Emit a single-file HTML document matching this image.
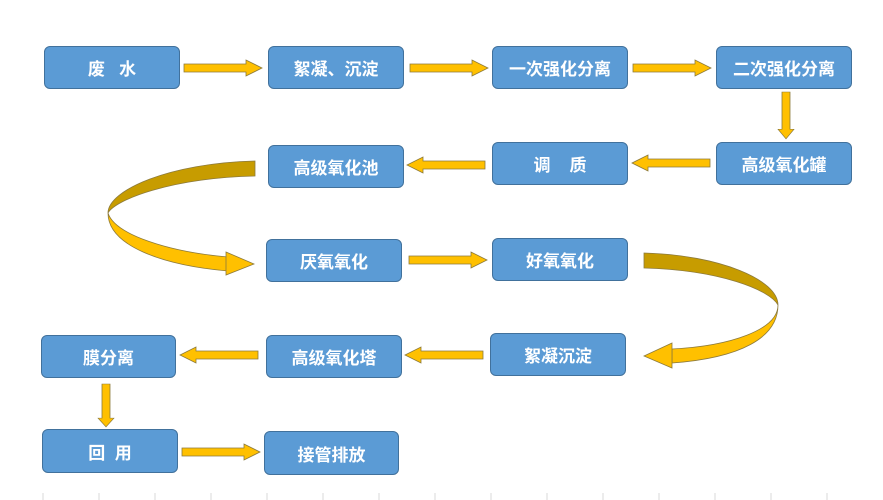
<!DOCTYPE html>
<html><head><meta charset="utf-8"><style>
body{margin:0;background:#fff;width:883px;height:500px;overflow:hidden;position:relative;font-family:"Liberation Sans","Noto Sans CJK SC",sans-serif}
.b{position:absolute;background:#5b9bd5;border:1px solid #41719c;border-radius:6px;color:#fff;font-size:17px;font-weight:bold;display:flex;align-items:center;justify-content:center;box-sizing:border-box}
svg{position:absolute;left:0;top:0}
</style></head><body>
<svg width="883" height="500">
<defs><g id="ar"><path d="M0,-4 L62,-4 L62,-8 L78,0 L62,8 L62,4 L0,4 Z" fill="#ffc000" stroke="#8c7a3c" stroke-width="0.8"/></g></defs>
<use href="#ar" transform="translate(184,68)"/>
<use href="#ar" transform="translate(410,68)"/>
<use href="#ar" transform="translate(633,68)"/>
<use href="#ar" transform="translate(786,92) rotate(90) scale(0.6,1)"/>
<use href="#ar" transform="translate(710,163) rotate(180)"/>
<use href="#ar" transform="translate(485,165) rotate(180)"/>
<use href="#ar" transform="translate(409,260)"/>
<use href="#ar" transform="translate(483,355) rotate(180)"/>
<use href="#ar" transform="translate(258,355) rotate(180)"/>
<use href="#ar" transform="translate(106,384) rotate(90) scale(0.55,1)"/>
<use href="#ar" transform="translate(182,452)"/>
<g stroke="#8c7a3c" stroke-width="0.8">
<path d="M255,161 C170,163 108,190 108,213 C115,200 170,178 255,176 Z" fill="#c79c00"/>
<path d="M108,213 C108,245 160,265 228,271 L228,257 C170,252 115,235 108,213 Z" fill="#ffc000"/>
<path d="M226,252 L254,264 L226,275 Z" fill="#ffc000"/>
<path d="M644,253 C720,255 778,280 778,305 C770,290 720,270 644,268 Z" fill="#c79c00"/>
<path d="M778,305 C778,330 730,346 672,349 L672,363 C740,358 778,338 778,305 Z" fill="#ffc000"/>
<path d="M672,343 L644,356 L672,368 Z" fill="#ffc000"/>
</g>
<g stroke="#d9d9d9" stroke-width="1">
<path d="M43,493V500M99,493V500M155,493V500M211,493V500M267,493V500M323,493V500M379,493V500M435,493V500M491,493V500M547,493V500M603,493V500M659,493V500M715,493V500M771,493V500M827,493V500"/>
</g>
</svg>
<div class="b" style="left:44px;top:46px;width:136px;height:43px">废&nbsp;&nbsp;&nbsp;水</div>
<div class="b" style="left:268px;top:46px;width:136px;height:43px">絮凝、沉淀</div>
<div class="b" style="left:492px;top:46px;width:136px;height:43px">一次强化分离</div>
<div class="b" style="left:716px;top:46px;width:136px;height:43px">二次强化分离</div>
<div class="b" style="left:268px;top:145px;width:136px;height:43px">高级氧化池</div>
<div class="b" style="left:492px;top:142px;width:136px;height:43px">调&nbsp;&nbsp;&nbsp;&nbsp;质</div>
<div class="b" style="left:716px;top:142px;width:136px;height:43px">高级氧化罐</div>
<div class="b" style="left:266px;top:239px;width:136px;height:43px">厌氧氧化</div>
<div class="b" style="left:492px;top:238px;width:136px;height:43px">好氧氧化</div>
<div class="b" style="left:41px;top:335px;width:135px;height:43px">膜分离</div>
<div class="b" style="left:266px;top:335px;width:136px;height:43px">高级氧化塔</div>
<div class="b" style="left:490px;top:333px;width:136px;height:43px">絮凝沉淀</div>
<div class="b" style="left:42px;top:429px;width:136px;height:44px">回&nbsp;&nbsp;用</div>
<div class="b" style="left:264px;top:431px;width:135px;height:44px">接管排放</div>
</body></html>
